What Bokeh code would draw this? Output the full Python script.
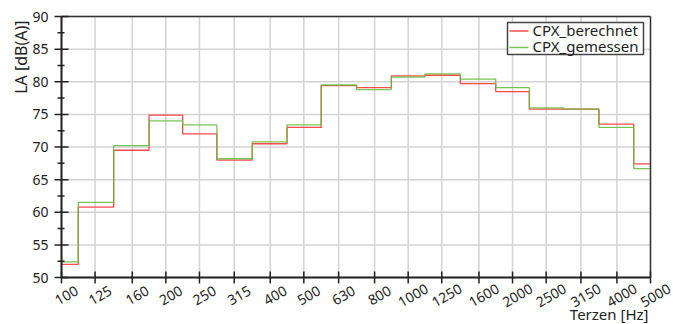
import math
from math import pi

from bokeh.core.properties import value
from bokeh.embed import file_html
from bokeh.models import Range1d
from bokeh.plotting import figure
from bokeh.resources import INLINE

# Third-octave band centre frequencies [Hz]
bands = [100, 125, 160, 200, 250, 315, 400, 500, 630, 800,
         1000, 1250, 1600, 2000, 2500, 3150, 4000, 5000]
band_labels = ["100", "125", "160", "200", "250", "315", "400", "500", "630", "800",
               "1000", "1250", "1600", "2000", "2500", "3150", "4000", "5000"]

# A-weighted level per band [dB(A)]
berechnet = [52.0, 60.8, 69.5, 74.9, 72.0, 68.0, 70.5, 73.0, 79.4, 79.1,
             80.9, 81.0, 79.7, 78.5, 75.8, 75.8, 73.5, 67.4]
gemessen = [52.4, 61.5, 70.2, 74.0, 73.4, 68.2, 70.8, 73.4, 79.5, 78.8,
            80.7, 81.2, 80.4, 79.1, 76.0, 75.8, 73.0, 66.7]

# level axis
y_ticks = [50, 55, 60, 65, 70, 75, 80, 85, 90]
y_tick_labels = ["50", "55", "60", "65", "70", "75", "80", "85", "90"]
y_minor = [(a + b) / 2 for a, b in zip(y_ticks[:-1], y_ticks[1:])]

series_names = ["CPX_berechnet", "CPX_gemessen"]
series_colors = ["#ff2a2a", "#5fbb3a"]

FONT = "Noto Sans"
INK = "#222222"

# canvas and plot-area geometry in pixels
W, H = 673, 324
PX_L, PX_R, PX_T, PX_B = 61, 650, 16, 277
px_per_decade = (PX_R - PX_L) / math.log10(bands[-1] / bands[0])
px_per_db = (PX_B - PX_T) / (y_ticks[-1] - y_ticks[0])


def fx(px):
    """canvas x pixel -> frequency"""
    return bands[0] * 10 ** ((px - PX_L) / px_per_decade)


def fy(py):
    """canvas y pixel -> level"""
    return y_ticks[-1] - (py - PX_T) / px_per_db


# the frame fills the whole canvas; axes, ticks and labels are drawn inside it
p = figure(width=W, height=H, title=None, x_axis_type="log",
           x_range=Range1d(fx(0), fx(W)), y_range=Range1d(fy(H), fy(0)),
           x_axis_location=None, y_axis_location=None,
           output_backend="svg", toolbar_location=None, min_border=0)
p.grid.visible = False
p.outline_line_color = None
p.background_fill_color = "white"
p.border_fill_color = "white"

x0, x1 = bands[0], bands[-1]
y0, y1 = y_ticks[0], y_ticks[-1]

# grid
GRID = "#d3d3d3"
p.segment(x0=bands, y0=y0, x1=bands, y1=y1, line_color=GRID, line_width=1.5)
p.segment(x0=x0, y0=y_ticks, x1=x1, y1=y_ticks, line_color=GRID, line_width=1.5)

# level curves as centred steps
p.step(x=bands, y=berechnet, mode="center", line_color=series_colors[0],
       line_width=1.3, line_alpha=0.85)
p.step(x=bands, y=gemessen, mode="center", line_color=series_colors[1],
       line_width=1.3, line_alpha=0.85)

# frame border (top, right) and axis lines (left, bottom)
p.segment(x0=[x0, x1], y0=[y1, y0], x1=[x1, x1], y1=[y1, y1],
          line_color="#333333", line_width=1.5)
p.segment(x0=[x0, x0], y0=[y0, y0], x1=[x0, x1], y1=[y1, y0],
          line_color=INK, line_width=2)

# ticks
p.segment(x0=bands, y0=fy(PX_B - 6), x1=bands, y1=fy(PX_B + 6),
          line_color=INK, line_width=1.5)
p.segment(x0=fx(PX_L - 7), y0=y_ticks, x1=fx(PX_L + 7), y1=y_ticks,
          line_color=INK, line_width=1.5)
p.segment(x0=fx(PX_L - 4), y0=y_minor, x1=fx(PX_L + 3), y1=y_minor,
          line_color=INK, line_width=1.5)

# tick labels
p.text(x=fx(PX_L - 13), y=y_ticks, text=y_tick_labels, text_align="right",
       text_baseline="middle", text_font=value(FONT), text_font_size="14px",
       text_color=INK)
p.text(x=bands, y=fy(PX_B + 18), text=band_labels, x_offset=5, angle=pi / 6,
       text_align="center", text_baseline="middle", text_font=value(FONT),
       text_font_size="14px", text_color=INK)

# axis titles
p.text(x=fx(20), y=fy(20), text=["LA [dB(A)]"], angle=pi / 2, text_align="right",
       text_baseline="middle", text_font=value(FONT), text_font_size="16px",
       text_color=INK)
p.text(x=fx(648), y=fy(313.5), text=["Terzen [Hz]"], text_align="right",
       text_baseline="middle", text_font=value(FONT), text_font_size="15px",
       text_color=INK)

# legend box in the upper right corner
LG_L, LG_R, LG_T, LG_B = 507, 643, 22, 54
p.rect(x=fx((LG_L + LG_R) / 2), y=fy((LG_T + LG_B) / 2),
       width=LG_R - LG_L, height=LG_B - LG_T, width_units="screen", height_units="screen",
       fill_color="white", line_color="#444444", line_width=1.5)
row_line_y = [30.5, 47]
row_text_y = [29.5, 45.8]
p.segment(x0=fx(LG_L + 2), y0=[fy(v) for v in row_line_y],
          x1=fx(LG_L + 21), y1=[fy(v) for v in row_line_y],
          line_color=series_colors, line_width=1.3, line_alpha=0.85)
p.text(x=fx(LG_L + 25), y=[fy(v) for v in row_text_y], text=series_names,
       text_align="left", text_baseline="middle", text_font=value(FONT),
       text_font_size="15px", text_color=INK)

open("out.html", "w").write(file_html(p, INLINE))
